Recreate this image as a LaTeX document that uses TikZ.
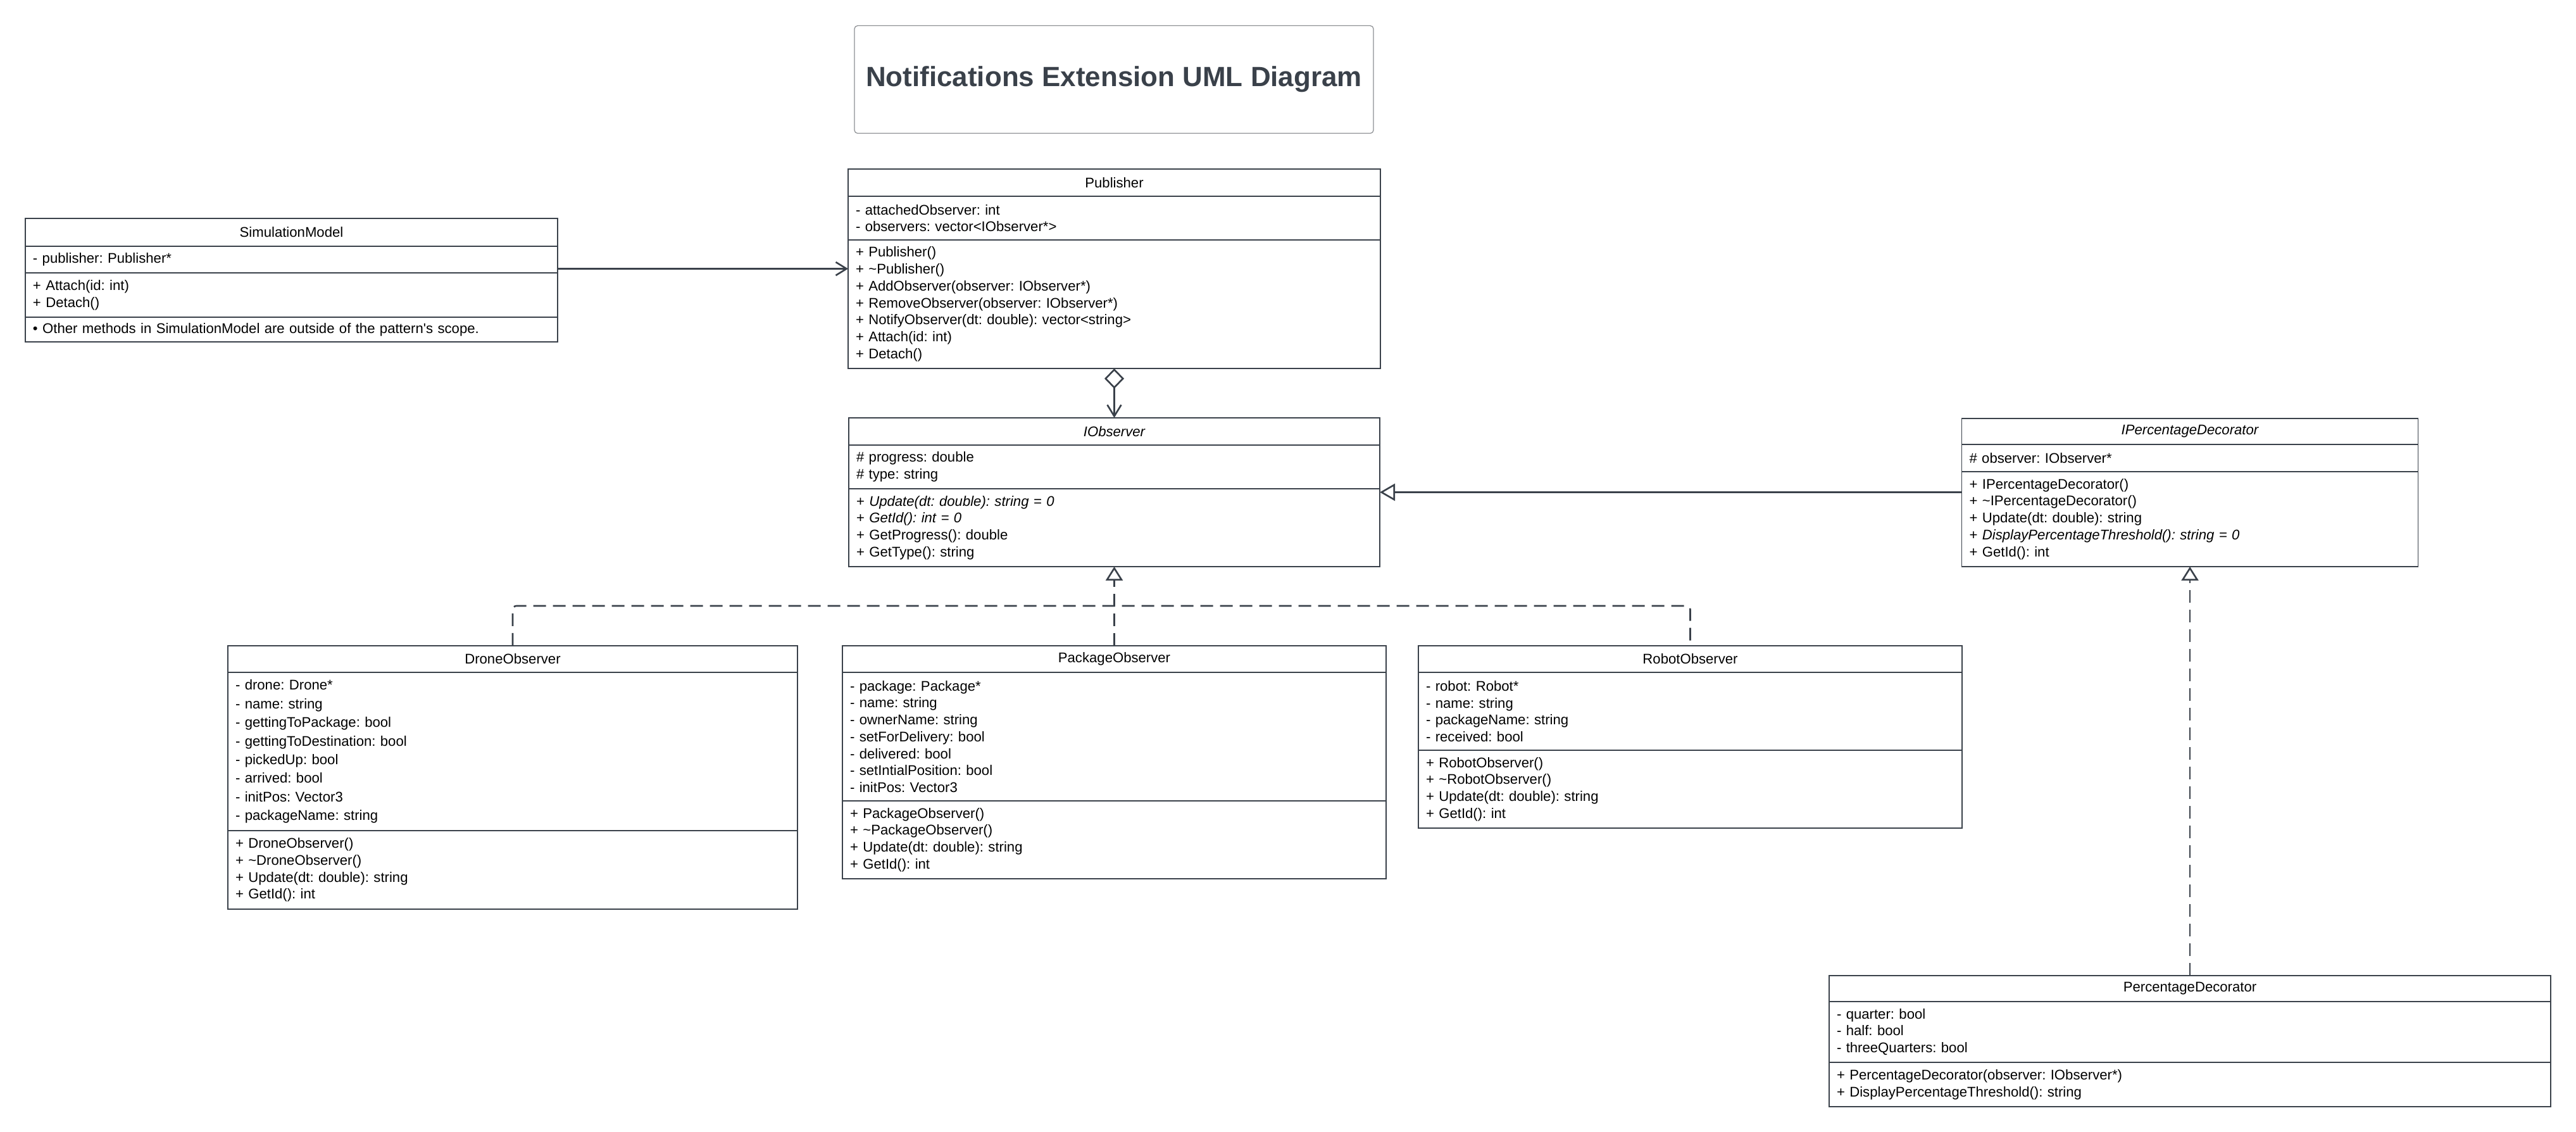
\documentclass[tikz,border=0pt]{standalone}
\usepackage{fontspec}
\setmainfont{Liberation Sans}
\usepackage{xcolor}
\definecolor{umlLine}{HTML}{3A414A}
\definecolor{titleGray}{HTML}{8C8F93}
\usepackage{tikz}
\usetikzlibrary{calc}
\usetikzlibrary{positioning}
\usetikzlibrary{arrows.meta}

\newcommand{\umlFont}{\fontsize{6.3}{7.62}\selectfont}
\frenchspacing

\begin{document}
\begin{tikzpicture}[
	box/.style={draw=umlLine, line width=0.4pt, rectangle, fill=white, outer sep=0pt},
	classHead/.style={box, anchor=north, inner sep=0pt, minimum height=0.43cm, font=\umlFont},
	compart/.style={box, anchor=north, inner xsep=0.12cm, inner ysep=0pt, align=left, font=\umlFont},
	titleBox/.style={draw=titleGray, line width=0.35pt, rounded corners=0.05cm, anchor=north, minimum width=8.2cm, minimum height=1.7cm, inner sep=0pt, text=umlLine, font=\fontsize{12.5}{14}\selectfont\bfseries},
	arrow/.style={draw=umlLine, line width=0.75pt},
	assoc/.style={arrow, -{Straight Barb[length=0.17cm, width=0.21cm]}},
	aggr/.style={arrow, {Diamond[open, length=0.32cm, width=0.31cm]}-{Straight Barb[length=0.18cm, width=0.22cm]}},
	gener/.style={arrow, -{Triangle[open, length=0.24cm, width=0.27cm]}},
	real/.style={arrow, dash pattern=on 0.20cm off 0.11cm},
	realArrow/.style={real, -{Triangle[open, length=0.22cm, width=0.27cm]}},
	]
	\useasboundingbox (0,0) rectangle (40.70,-17.88);
	
	\draw node[titleBox] (title) at (17.60,-0.40) {Notifications Extension UML Diagram};
	
	% SimulationModel
	\draw node[classHead, minimum width=8.41cm, minimum height=0.44cm] (smHead) at (4.605,-3.45) {SimulationModel};
	\draw node[compart, text width=8.17cm, minimum height=0.42cm, below=0mm of smHead] (smAttr) {- publisher: Publisher*};
	\draw node[compart, text width=8.17cm, minimum height=0.70cm, below=0mm of smAttr] (smMeth) {+ Attach(id: int)\\+ Detach()};
	\draw node[compart, text width=8.17cm, minimum height=0.39cm, below=0mm of smMeth] (smNote) {• Other methods in SimulationModel are outside of the pattern\textquotesingle s scope.};
	
	% Publisher
	\draw node[classHead, minimum width=8.41cm] (pubHead) at (17.605,-2.67) {Publisher};
	\draw node[compart, text width=8.17cm, minimum height=0.69cm, below=0mm of pubHead] (pubAttr) {- attachedObserver: int\\- observers: vector<IObserver*>};
	\draw node[compart, text width=8.17cm, minimum height=2.03cm, below=0mm of pubAttr] (pubMeth) {+ Publisher()\\+ \textasciitilde Publisher()\\+ AddObserver(observer: IObserver*)\\+ RemoveObserver(observer: IObserver*)\\+ NotifyObserver(dt: double): vector<string>\\+ Attach(id: int)\\+ Detach()};
	
	% IObserver
	\draw node[classHead, minimum width=8.39cm, font=\umlFont\itshape] (iobsHead) at (17.605,-6.60) {IObserver};
	\draw node[compart, text width=8.15cm, minimum height=0.69cm, below=0mm of iobsHead] (iobsAttr) {\# progress: double\\\# type: string};
	\draw node[compart, text width=8.15cm, minimum height=1.23cm, below=0mm of iobsAttr] (iobsMeth) {+ \textit{Update(dt: double): string = 0}\\+ \textit{GetId(): int = 0}\\+ GetProgress(): double\\+ GetType(): string};
	
	% IPercentageDecorator
	\draw node[classHead, minimum width=7.21cm, minimum height=0.41cm, font=\umlFont\itshape] (ipdHead) at (34.60,-6.61) {IPercentageDecorator};
	\draw node[compart, text width=6.97cm, minimum height=0.43cm, below=0mm of ipdHead] (ipdAttr) {\# observer: IObserver*};
	\draw node[compart, text width=6.97cm, minimum height=1.50cm, below=0mm of ipdAttr] (ipdMeth) {+ IPercentageDecorator()\\+ \textasciitilde IPercentageDecorator()\\+ Update(dt: double): string\\+ \textit{DisplayPercentageThreshold(): string = 0}\\+ GetId(): int};
	
	% observers
	\draw node[classHead, minimum width=9.00cm, minimum height=0.42cm] (droneHead) at (8.10,-10.20) {DroneObserver};
	\draw node[compart, text width=8.76cm, minimum height=2.50cm, font=\fontsize{6.3}{8.37}\selectfont, below=0mm of droneHead] (droneAttr) {- drone: Drone*\\- name: string\\- gettingToPackage: bool\\- gettingToDestination: bool\\- pickedUp: bool\\- arrived: bool\\- initPos: Vector3\\- packageName: string};
	\draw node[compart, text width=8.76cm, minimum height=1.24cm, below=0mm of droneAttr] (droneMeth) {+ DroneObserver()\\+ \textasciitilde DroneObserver()\\+ Update(dt: double): string\\+ GetId(): int};
	
	\draw node[classHead, minimum width=8.59cm, minimum height=0.42cm] (pkgHead) at (17.605,-10.20) {PackageObserver};
	\draw node[compart, text width=8.35cm, minimum height=2.03cm, below=0mm of pkgHead] (pkgAttr) {- package: Package*\\- name: string\\- ownerName: string\\- setForDelivery: bool\\- delivered: bool\\- setIntialPosition: bool\\- initPos: Vector3};
	\draw node[compart, text width=8.35cm, minimum height=1.23cm, below=0mm of pkgAttr] (pkgMeth) {+ PackageObserver()\\+ \textasciitilde PackageObserver()\\+ Update(dt: double): string\\+ GetId(): int};
	
	\draw node[classHead, minimum width=8.59cm, minimum height=0.42cm] (robotHead) at (26.705,-10.20) {RobotObserver};
	\draw node[compart, text width=8.35cm, minimum height=1.23cm, below=0mm of robotHead] (robotAttr) {- robot: Robot*\\- name: string\\- packageName: string\\- received: bool};
	\draw node[compart, text width=8.35cm, minimum height=1.23cm, below=0mm of robotAttr] (robotMeth) {+ RobotObserver()\\+ \textasciitilde RobotObserver()\\+ Update(dt: double): string\\+ GetId(): int};
	
	% PercentageDecorator
	\draw node[classHead, minimum width=11.40cm, minimum height=0.41cm] (pdHead) at (34.60,-15.41) {PercentageDecorator};
	\draw node[compart, text width=11.16cm, minimum height=0.96cm, below=0mm of pdHead] (pdAttr) {- quarter: bool\\- half: bool\\- threeQuarters: bool};
	\draw node[compart, text width=11.16cm, minimum height=0.70cm, below=0mm of pdAttr] (pdMeth) {+ PercentageDecorator(observer: IObserver*)\\+ DisplayPercentageThreshold(): string};
	
	% Arrow
	\coordinate (pubMid) at ($(pubHead.north west)!0.5!(pubMeth.south west)$);
	\coordinate (iobsMid) at ($(iobsHead.north east)!0.5!(iobsMeth.south east)$);
	\coordinate (realJoin) at ($(pkgHead.north)+(0,0.63)$);
	
	\draw [assoc] (smAttr.east |- pubMid) -- (pubMid);
	\draw [aggr] (pubMeth.south) -- (iobsHead.north);
	\draw [gener] (ipdMeth.west |- iobsMid) -- (iobsMid);
	
	\draw [real, rounded corners=0.06cm] (droneHead.north) |- (realJoin) -| (robotHead.north);
	\draw [realArrow] (pkgHead.north) -- (iobsMeth.south);
	\draw [realArrow] (pdHead.north) -- (ipdMeth.south);
	
\end{tikzpicture}
\end{document}
